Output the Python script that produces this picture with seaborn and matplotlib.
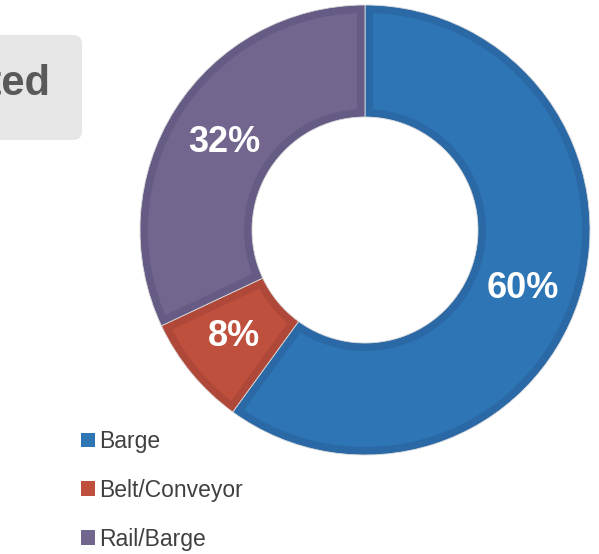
import numpy as np
import matplotlib
matplotlib.use("Agg")
import matplotlib.pyplot as plt
from matplotlib.patches import Polygon, FancyBboxPatch, Patch
import seaborn as sns

# Share of volume by transport mode
modes = ["Barge", "Belt/Conveyor", "Rail/Barge"]
shares = [60, 8, 32]

face_colors = ["#2E75B6", "#C0503E", "#72668F"]
rim_colors = ["#2A69A6", "#B0483A", "#665B84"]

sns.set_theme(style="white")
plt.rcParams["font.family"] = ["Liberation Sans", "DejaVu Sans"]

W, H = 599, 554
fig = plt.figure(figsize=(W / 100, H / 100), dpi=100)
ax = fig.add_axes([0, 0, 1, 1])

# donut geometry in pixel units (y measured upward)
cx, cy = 365, H - 230
R_out, R_in = 225, 113
bevel = 8

wedges, _ = ax.pie(
    shares, colors=rim_colors, startangle=90, counterclock=False,
    center=(cx, cy), radius=R_out,
    wedgeprops=dict(width=R_out - R_in, edgecolor="#DADADA", linewidth=0.6),
)

# lighter inner face of each slice, inset by a constant rim width
for w, fc in zip(wedges, face_colors):
    t1, t2 = np.deg2rad(w.theta1), np.deg2rad(w.theta2)
    ro, ri = R_out - bevel, R_in + bevel
    ao = np.arcsin(bevel / ro)
    ai = np.arcsin(bevel / ri)
    outer = np.linspace(t1 + ao, t2 - ao, 120)
    inner = np.linspace(t2 - ai, t1 + ai, 120)
    pts = np.concatenate([
        np.column_stack([cx + ro * np.cos(outer), cy + ro * np.sin(outer)]),
        np.column_stack([cx + ri * np.cos(inner), cy + ri * np.sin(inner)]),
    ])
    ax.add_patch(Polygon(pts, closed=True, facecolor=fc, edgecolor="none"))

# percentage labels
label_pos = [(523, 288), (234, 336), (224, 143)]
for v, (x, y) in zip(shares, label_pos):
    ax.text(x, H - y, f"{v}%", ha="center", va="center", color="white",
            fontsize=26, fontweight="bold")

# header box, partly beyond the left edge
ax.add_patch(FancyBboxPatch((-200, H - 140), 282, 105,
                            boxstyle="round,pad=0,rounding_size=9",
                            facecolor="#E6E6E6", edgecolor="none"))
ax.text(51, H - 84, "Transported", ha="right", va="center",
        color="#595959", fontsize=30, fontweight="bold")

handles = [Patch(facecolor=c, edgecolor="none") for c in face_colors]
ax.legend(handles, modes, loc="upper left", bbox_to_anchor=(81 / W, 1 - 430 / H),
          frameon=False, fontsize=16.5, labelcolor="#404040",
          handlelength=0.61, handleheight=0.61, handletextpad=0.2,
          labelspacing=1.13, borderaxespad=0, borderpad=0)

ax.set_xlim(0, W)
ax.set_ylim(0, H)
ax.set_aspect("equal")
ax.axis("off")

fig.savefig("out.png", dpi=100)
